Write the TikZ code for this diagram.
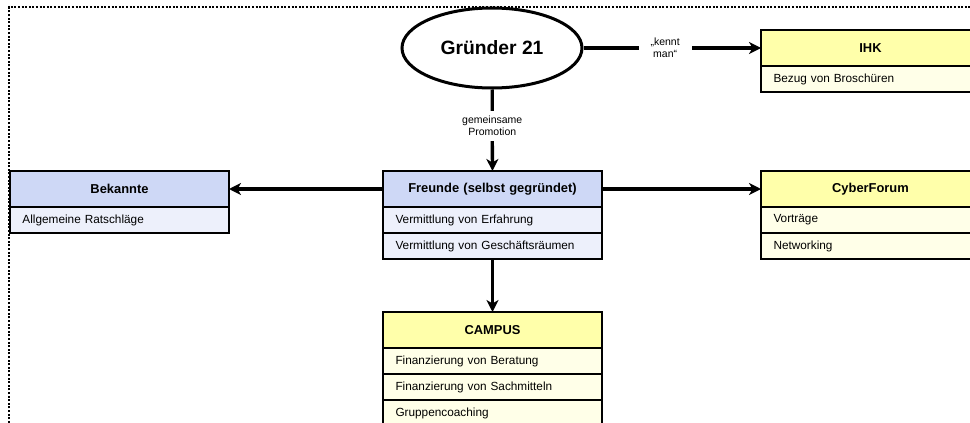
\documentclass[tikz,border=0pt]{standalone}
\usepackage{fontspec}
\setmainfont{Liberation Sans}
\usetikzlibrary{shapes.geometric,arrows.meta}
\definecolor{blueH}{RGB}{206,216,246}
\definecolor{blueR}{RGB}{237,240,251}
\definecolor{yelH}{RGB}{255,255,170}
\definecolor{yelR}{RGB}{255,255,232}
\begin{document}
\begin{tikzpicture}[x=1pt,y=-1pt,
  boxbase/.style={draw=black, line width=2pt, minimum width=219pt, text width=194pt,
    inner xsep=12.5pt, inner ysep=0pt, outer sep=0pt, anchor=north west},
  headbox/.style={boxbase, minimum height=36pt, align=center,
    font=\fontsize{12.9}{15}\selectfont\bfseries},
  rowbox/.style={boxbase, minimum height=26pt, align=left,
    font=\fontsize{11.8}{13}\selectfont},
  headB/.style={headbox, fill=blueH},
  rowB/.style={rowbox, fill=blueR},
  headY/.style={headbox, fill=yelH},
  rowY/.style={rowbox, fill=yelR},
  conn/.style={line width=3.3pt, -{Stealth[length=12pt,width=12pt,inset=3.5pt]}},
  lbl/.style={fill=white, font=\fontsize{10.5}{12}\selectfont, align=center,
    inner xsep=12pt, inner ysep=5pt},
  frame/.style={line width=2pt, dash pattern=on 2pt off 1.6pt}
]
\useasboundingbox (0,0) rectangle (970,423);
\draw[frame] (9,430) -- (9,7) -- (980,7);

\node[draw, ellipse, line width=3pt, minimum width=180pt, minimum height=80pt,
  inner sep=0pt, font=\fontsize{19.3}{21}\selectfont\bfseries] (g21) at (492,48) {Gründer 21};

\node[headY] (ihk) at (761,30) {IHK};
\node[rowY] (ihk1) at (ihk.south west) {Bezug von Broschüren};

\node[headB] (bek) at (10,171) {Bekannte};
\node[rowB] (bek1) at (bek.south west) {Allgemeine Ratschläge};

\node[headB] (fr) at (383,171) {Freunde (selbst gegründet)};
\node[rowB] (fr1) at (fr.south west) {Vermittlung von Erfahrung};
\node[rowB] (fr2) at (fr1.south west) {Vermittlung von Geschäftsräumen};

\node[headY] (cyb) at (761,171) {CyberForum};
\node[rowY] (cyb1) at (cyb.south west) {Vorträge};
\node[rowY] (cyb2) at (cyb1.south west) {Networking};

\node[headY] (cam) at (383,312) {CAMPUS};
\node[rowY] (cam1) at (cam.south west) {Finanzierung von Beratung};
\node[rowY] (cam2) at (cam1.south west) {Finanzierung von Sachmitteln};
\node[rowY] (cam3) at (cam2.south west) {Gruppencoaching};

\draw[conn] (g21) -- node[lbl, pos=0.46] {„kennt\\man“} (ihk);
\draw[conn] (g21) -- node[lbl, pos=0.45, inner xsep=2pt] {gemeinsame\\Promotion} (fr);
\draw[conn] (fr) -- (bek);
\draw[conn] (fr) -- (cyb);
\draw[conn] (fr2) -- (cam);
\end{tikzpicture}
\end{document}
